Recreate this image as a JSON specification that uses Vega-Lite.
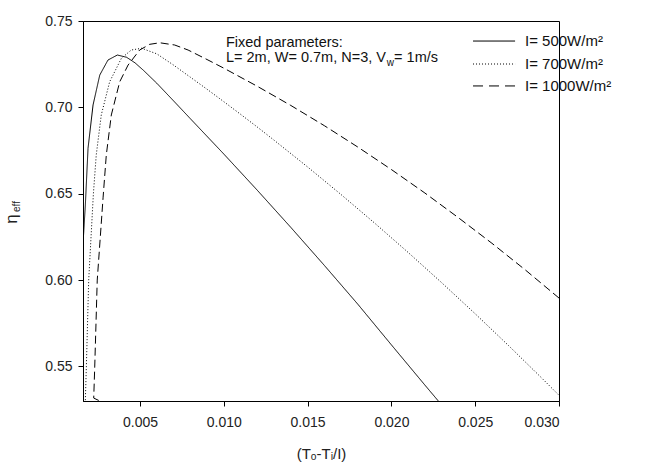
{
  "$schema": "https://vega.github.io/schema/vega-lite/v6.json",
  "width": 476,
  "height": 380,
  "autosize": {"type": "none"},
  "padding": {"left": 83, "top": 21, "right": 94, "bottom": 64},
  "background": "white",
  "config": {
    "view": {"stroke": "black", "strokeWidth": 1},
    "font": "Liberation Sans",
    "axis": {
      "grid": false,
      "domainColor": "black",
      "tickColor": "black",
      "tickSize": 5,
      "labelFont": "Liberation Sans",
      "labelFontSize": 14,
      "labelColor": "#222",
      "titleFont": "Liberation Sans",
      "titleFontWeight": "normal",
      "titleColor": "#222"
    }
  },
  "datasets": {
    "one": [{}],
    "curves": [
      {"series": "I= 500W/m²", "i": 1, "x": 0.00162, "y": 0.6240},
      {"series": "I= 500W/m²", "i": 2, "x": 0.00174, "y": 0.6435},
      {"series": "I= 500W/m²", "i": 3, "x": 0.00190, "y": 0.6763},
      {"series": "I= 500W/m²", "i": 4, "x": 0.00220, "y": 0.7014},
      {"series": "I= 500W/m²", "i": 5, "x": 0.00260, "y": 0.7187},
      {"series": "I= 500W/m²", "i": 6, "x": 0.00309, "y": 0.7274},
      {"series": "I= 500W/m²", "i": 7, "x": 0.00365, "y": 0.7303},
      {"series": "I= 500W/m²", "i": 8, "x": 0.00420, "y": 0.7290},
      {"series": "I= 500W/m²", "i": 9, "x": 0.00470, "y": 0.7258},
      {"series": "I= 500W/m²", "i": 10, "x": 0.00520, "y": 0.7215},
      {"series": "I= 500W/m²", "i": 11, "x": 0.00600, "y": 0.7140},
      {"series": "I= 500W/m²", "i": 12, "x": 0.00700, "y": 0.7038},
      {"series": "I= 500W/m²", "i": 13, "x": 0.00800, "y": 0.6935},
      {"series": "I= 500W/m²", "i": 14, "x": 0.01000, "y": 0.6730},
      {"series": "I= 500W/m²", "i": 15, "x": 0.01200, "y": 0.6520},
      {"series": "I= 500W/m²", "i": 16, "x": 0.01400, "y": 0.6305},
      {"series": "I= 500W/m²", "i": 17, "x": 0.01600, "y": 0.6085},
      {"series": "I= 500W/m²", "i": 18, "x": 0.01800, "y": 0.5860},
      {"series": "I= 500W/m²", "i": 19, "x": 0.02000, "y": 0.5625},
      {"series": "I= 500W/m²", "i": 20, "x": 0.02200, "y": 0.5392},
      {"series": "I= 500W/m²", "i": 21, "x": 0.02280, "y": 0.5300},

      {"series": "I= 700W/m²", "i": 1, "x": 0.00174, "y": 0.5305},
      {"series": "I= 700W/m²", "i": 2, "x": 0.00180, "y": 0.5497},
      {"series": "I= 700W/m²", "i": 3, "x": 0.00194, "y": 0.6000},
      {"series": "I= 700W/m²", "i": 4, "x": 0.00222, "y": 0.6500},
      {"series": "I= 700W/m²", "i": 5, "x": 0.00239, "y": 0.6724},
      {"series": "I= 700W/m²", "i": 6, "x": 0.00269, "y": 0.6956},
      {"series": "I= 700W/m²", "i": 7, "x": 0.00319, "y": 0.7148},
      {"series": "I= 700W/m²", "i": 8, "x": 0.00389, "y": 0.7284},
      {"series": "I= 700W/m²", "i": 9, "x": 0.00448, "y": 0.7332},
      {"series": "I= 700W/m²", "i": 10, "x": 0.00510, "y": 0.7342},
      {"series": "I= 700W/m²", "i": 11, "x": 0.00600, "y": 0.7310},
      {"series": "I= 700W/m²", "i": 12, "x": 0.00700, "y": 0.7245},
      {"series": "I= 700W/m²", "i": 13, "x": 0.00800, "y": 0.7175},
      {"series": "I= 700W/m²", "i": 14, "x": 0.00900, "y": 0.7105},
      {"series": "I= 700W/m²", "i": 15, "x": 0.01000, "y": 0.7033},
      {"series": "I= 700W/m²", "i": 16, "x": 0.01100, "y": 0.6960},
      {"series": "I= 700W/m²", "i": 17, "x": 0.01200, "y": 0.6886},
      {"series": "I= 700W/m²", "i": 18, "x": 0.01300, "y": 0.6810},
      {"series": "I= 700W/m²", "i": 19, "x": 0.01500, "y": 0.6655},
      {"series": "I= 700W/m²", "i": 20, "x": 0.01700, "y": 0.6495},
      {"series": "I= 700W/m²", "i": 21, "x": 0.01900, "y": 0.6330},
      {"series": "I= 700W/m²", "i": 22, "x": 0.02100, "y": 0.6160},
      {"series": "I= 700W/m²", "i": 23, "x": 0.02300, "y": 0.5985},
      {"series": "I= 700W/m²", "i": 24, "x": 0.02500, "y": 0.5805},
      {"series": "I= 700W/m²", "i": 25, "x": 0.02700, "y": 0.5620},
      {"series": "I= 700W/m²", "i": 26, "x": 0.02900, "y": 0.5430},
      {"series": "I= 700W/m²", "i": 27, "x": 0.03000, "y": 0.5333},

      {"series": "I= 1000W/m²", "i": 1, "x": 0.00254, "y": 0.5303},
      {"series": "I= 1000W/m²", "i": 2, "x": 0.00224, "y": 0.5317},
      {"series": "I= 1000W/m²", "i": 3, "x": 0.00230, "y": 0.5497},
      {"series": "I= 1000W/m²", "i": 4, "x": 0.00245, "y": 0.6000},
      {"series": "I= 1000W/m²", "i": 5, "x": 0.00280, "y": 0.6480},
      {"series": "I= 1000W/m²", "i": 6, "x": 0.00299, "y": 0.6724},
      {"series": "I= 1000W/m²", "i": 7, "x": 0.00329, "y": 0.6956},
      {"series": "I= 1000W/m²", "i": 8, "x": 0.00379, "y": 0.7148},
      {"series": "I= 1000W/m²", "i": 9, "x": 0.00429, "y": 0.7245},
      {"series": "I= 1000W/m²", "i": 10, "x": 0.00498, "y": 0.7332},
      {"series": "I= 1000W/m²", "i": 11, "x": 0.00558, "y": 0.7365},
      {"series": "I= 1000W/m²", "i": 12, "x": 0.00618, "y": 0.7374},
      {"series": "I= 1000W/m²", "i": 13, "x": 0.00707, "y": 0.7361},
      {"series": "I= 1000W/m²", "i": 14, "x": 0.00787, "y": 0.7332},
      {"series": "I= 1000W/m²", "i": 15, "x": 0.00900, "y": 0.7277},
      {"series": "I= 1000W/m²", "i": 16, "x": 0.01000, "y": 0.7227},
      {"series": "I= 1000W/m²", "i": 17, "x": 0.01200, "y": 0.7122},
      {"series": "I= 1000W/m²", "i": 18, "x": 0.01400, "y": 0.7011},
      {"series": "I= 1000W/m²", "i": 19, "x": 0.01600, "y": 0.6894},
      {"series": "I= 1000W/m²", "i": 20, "x": 0.01800, "y": 0.6770},
      {"series": "I= 1000W/m²", "i": 21, "x": 0.02000, "y": 0.6640},
      {"series": "I= 1000W/m²", "i": 22, "x": 0.02200, "y": 0.6504},
      {"series": "I= 1000W/m²", "i": 23, "x": 0.02400, "y": 0.6361},
      {"series": "I= 1000W/m²", "i": 24, "x": 0.02600, "y": 0.6213},
      {"series": "I= 1000W/m²", "i": 25, "x": 0.02800, "y": 0.6058},
      {"series": "I= 1000W/m²", "i": 26, "x": 0.03000, "y": 0.5896}
    ]
  },
  "layer": [
    {
      "data": {"name": "curves"},
      "mark": {"type": "line", "color": "black", "strokeWidth": 1, "clip": true},
      "encoding": {
        "x": {
          "field": "x", "type": "quantitative",
          "scale": {"domain": [0.0016, 0.030], "nice": false, "zero": false},
          "axis": {
            "values": [0.005, 0.010, 0.015, 0.020, 0.025, 0.030],
            "format": ".3f",
            "labelPadding": 9,
            "title": "(Tₒ-Tᵢ/I)",
            "titleFontSize": 15,
            "titlePadding": 17
          }
        },
        "y": {
          "field": "y", "type": "quantitative",
          "scale": {"domain": [0.53, 0.75], "nice": false, "zero": false},
          "axis": {
            "values": [0.55, 0.60, 0.65, 0.70, 0.75],
            "format": ".2f",
            "labelPadding": 6,
            "title": null
          }
        },
        "order": {"field": "i", "type": "quantitative"},
        "strokeDash": {
          "field": "series", "type": "nominal",
          "scale": {
            "domain": ["I= 500W/m²", "I= 700W/m²", "I= 1000W/m²"],
            "range": [[1, 0], [1, 2], [8, 4]]
          },
          "legend": null
        }
      }
    },
    {
      "data": {"name": "one"},
      "mark": {"type": "rule", "color": "black", "strokeWidth": 1},
      "encoding": {"x": {"datum": 0.02487}, "x2": {"datum": 0.02738}, "y": {"datum": 0.7384}}
    },
    {
      "data": {"name": "one"},
      "mark": {"type": "rule", "color": "black", "strokeWidth": 1, "strokeDash": [1, 2]},
      "encoding": {"x": {"datum": 0.02487}, "x2": {"datum": 0.02738}, "y": {"datum": 0.7251}}
    },
    {
      "data": {"name": "one"},
      "mark": {"type": "rule", "color": "black", "strokeWidth": 1, "strokeDash": [10, 6]},
      "encoding": {"x": {"datum": 0.02487}, "x2": {"datum": 0.02738}, "y": {"datum": 0.7124}}
    },
    {
      "data": {"name": "one"},
      "mark": {"type": "text", "text": "I= 500W/m²", "align": "left", "baseline": "middle", "fontSize": 15, "font": "Liberation Sans", "color": "#111"},
      "encoding": {"x": {"datum": 0.02797}, "y": {"datum": 0.7384}}
    },
    {
      "data": {"name": "one"},
      "mark": {"type": "text", "text": "I= 700W/m²", "align": "left", "baseline": "middle", "fontSize": 15, "font": "Liberation Sans", "color": "#111"},
      "encoding": {"x": {"datum": 0.02797}, "y": {"datum": 0.7251}}
    },
    {
      "data": {"name": "one"},
      "mark": {"type": "text", "text": "I= 1000W/m²", "align": "left", "baseline": "middle", "fontSize": 15, "font": "Liberation Sans", "color": "#111"},
      "encoding": {"x": {"datum": 0.02797}, "y": {"datum": 0.7124}}
    },
    {
      "data": {"name": "one"},
      "mark": {"type": "text", "text": "Fixed parameters:", "align": "left", "baseline": "middle", "fontSize": 14.5, "font": "Liberation Sans", "color": "#111"},
      "encoding": {"x": {"datum": 0.01013}, "y": {"datum": 0.7375}}
    },
    {
      "data": {"name": "one"},
      "mark": {"type": "text", "text": "L= 2m, W= 0.7m, N=3, V", "align": "left", "baseline": "middle", "fontSize": 14.5, "font": "Liberation Sans", "color": "#111"},
      "encoding": {"x": {"datum": 0.01013}, "y": {"datum": 0.7283}}
    },
    {
      "data": {"name": "one"},
      "mark": {"type": "text", "text": "w", "align": "left", "baseline": "middle", "fontSize": 10, "font": "Liberation Sans", "color": "#111"},
      "encoding": {"x": {"datum": 0.01972}, "y": {"datum": 0.7257}}
    },
    {
      "data": {"name": "one"},
      "mark": {"type": "text", "text": "= 1m/s", "align": "left", "baseline": "middle", "fontSize": 14.5, "font": "Liberation Sans", "color": "#111"},
      "encoding": {"x": {"datum": 0.02016}, "y": {"datum": 0.7283}}
    },
    {
      "data": {"name": "one"},
      "mark": {"type": "text", "text": "η", "angle": 270, "align": "center", "baseline": "middle", "fontSize": 17, "font": "Liberation Sans", "color": "#222"},
      "encoding": {"x": {"datum": -0.00264}, "y": {"datum": 0.6354}}
    },
    {
      "data": {"name": "one"},
      "mark": {"type": "text", "text": "eff", "angle": 270, "align": "center", "baseline": "middle", "fontSize": 10, "font": "Liberation Sans", "color": "#222"},
      "encoding": {"x": {"datum": -0.00234}, "y": {"datum": 0.6426}}
    }
  ]
}
